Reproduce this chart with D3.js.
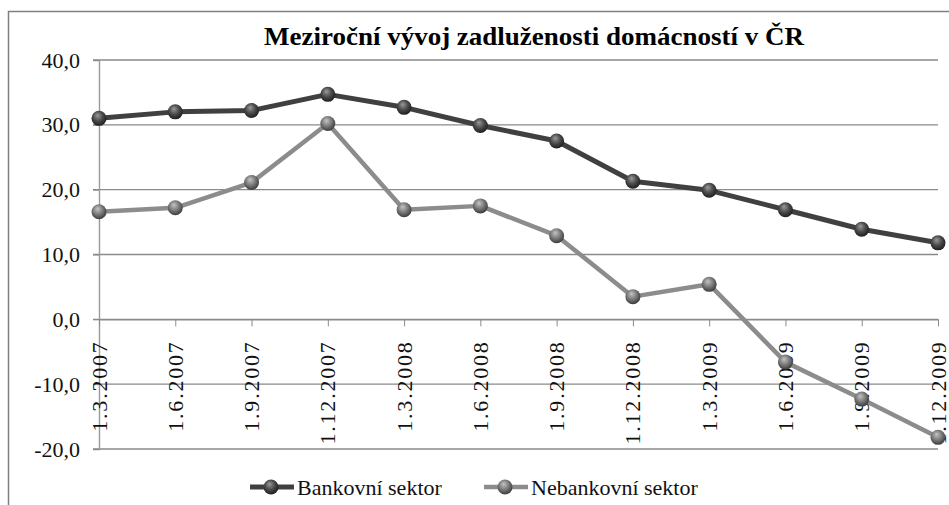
<!DOCTYPE html>
<html>
<head>
<meta charset="utf-8">
<script src="https://cdn.jsdelivr.net/npm/d3@7"></script>
<style>
  body { margin: 0; background: #fff; }
  svg text { font-family: 'Liberation Serif', 'Times New Roman', Times, serif !important; }
</style>
</head>
<body>
<div id="chart"></div>
<script>
var dates = ["1.3.2007", "1.6.2007", "1.9.2007", "1.12.2007", "1.3.2008", "1.6.2008",
             "1.9.2008", "1.12.2008", "1.3.2009", "1.6.2009", "1.9.2009", "1.12.2009"];
var bankovni = [31.0, 32.0, 32.2, 34.7, 32.7, 29.9, 27.5, 21.3, 19.9, 16.9, 13.9, 11.8];
var nebankovni = [16.6, 17.2, 21.1, 30.2, 16.9, 17.5, 12.9, 3.5, 5.4, -6.6, -12.3, -18.2];
var yTicks = [-20, -10, 0, 10, 20, 30, 40];
var seriesNames = ["Bankovní sektor", "Nebankovní sektor"];

var W = 949, H = 505;
var svg = d3.select("#chart").append("svg")
    .attr("width", W).attr("height", H);

var defs = svg.append("defs");
function ball(id, light, mid, dark)
{
    var g = defs.append("radialGradient").attr("id", id)
        .attr("cx", "45%").attr("cy", "40%").attr("r", "60%")
        .attr("fx", "40%").attr("fy", "30%");
    g.append("stop").attr("offset", "0%").attr("stop-color", light);
    g.append("stop").attr("offset", "55%").attr("stop-color", mid);
    g.append("stop").attr("offset", "100%").attr("stop-color", dark);
}
ball("ballDark", "#9a9a9a", "#4a4a4a", "#1e1e1e");
ball("ballLight", "#c4c4c4", "#7a7a7a", "#3c3c3c");

// outer frame (right and bottom run past the picture)
svg.append("rect")
    .attr("x", 8.5).attr("y", 11.5).attr("width", 960).attr("height", 520)
    .attr("fill", "none").attr("stroke", "#7f7f7f").attr("stroke-width", 1.5);

svg.append("text")
    .attr("x", 534).attr("y", 45)
    .attr("text-anchor", "middle")
    .attr("font-size", 25).attr("font-weight", "bold")
    .attr("textLength", 540).attr("lengthAdjust", "spacingAndGlyphs")
    .text("Meziroční vývoj zadluženosti domácností v ČR");

var x = d3.scalePoint().domain(dates).range([99, 938]);
var y = d3.scaleLinear().domain([-20, 40]).range([449, 60]);

// gridlines
svg.append("g").selectAll("line").data(yTicks).enter().append("line")
    .attr("x1", 93).attr("x2", 938)
    .attr("y1", d => y(d)).attr("y2", d => y(d))
    .attr("stroke", "#8a8a8a").attr("stroke-width", 1.4);

// y axis
var yAxis = svg.append("g").attr("transform", "translate(99,0)")
    .call(d3.axisLeft(y).tickValues(yTicks).tickSize(6).tickPadding(13)
        .tickFormat(d => d3.format(".1f")(d).replace(".", ",").replace("\u2212", "-")));
yAxis.select(".domain").attr("stroke", "#9a9a9a").attr("stroke-width", 1.4);
yAxis.selectAll(".tick line").attr("stroke", "#8a8a8a");
yAxis.selectAll("text").attr("font-size", 22).attr("fill", "#111");

// x axis at zero
var xAxis = svg.append("g").attr("transform", "translate(0," + y(0) + ")")
    .call(d3.axisBottom(x).tickSize(7).tickSizeOuter(0));
xAxis.select(".domain").attr("stroke", "#8a8a8a").attr("stroke-width", 1.4);
xAxis.selectAll(".tick line").attr("stroke", "#8a8a8a");
xAxis.selectAll("text")
    .attr("font-size", 22).attr("fill", "#111")
    .attr("letter-spacing", "1.8px")
    .attr("transform", "rotate(-90)")
    .attr("text-anchor", "end")
    .attr("x", -21).attr("y", 0).attr("dy", "0.32em");

var line = d3.line().x((d, i) => x(dates[i])).y(d => y(d));

var series = [
    {vals: bankovni, stroke: "#404040", width: 5, fill: "url(#ballDark)"},
    {vals: nebankovni, stroke: "#8c8c8c", width: 4.5, fill: "url(#ballLight)"}
];

series.slice().reverse().forEach(function(s) {
    svg.append("path").datum(s.vals)
        .attr("d", line)
        .attr("fill", "none")
        .attr("stroke", s.stroke).attr("stroke-width", s.width)
        .attr("stroke-linejoin", "round");
    svg.append("g").selectAll("circle").data(s.vals).enter().append("circle")
        .attr("cx", (d, i) => x(dates[i])).attr("cy", d => y(d))
        .attr("r", 7.5).attr("fill", s.fill);
});

// legend
var legendX = [250, 484];
var legend = svg.append("g").selectAll("g").data(series).enter().append("g")
    .attr("transform", (d, i) => "translate(" + legendX[i] + ",487)");
legend.append("line")
    .attr("x1", 0).attr("x2", 44)
    .attr("stroke", d => d.stroke).attr("stroke-width", d => d.width);
legend.append("circle").attr("cx", 21).attr("r", 7.5).attr("fill", d => d.fill);
legend.append("text")
    .attr("x", 47).attr("dy", "0.35em")
    .attr("font-size", 22).attr("fill", "#111")
    .text((d, i) => seriesNames[i]);
</script>
</body>
</html>
